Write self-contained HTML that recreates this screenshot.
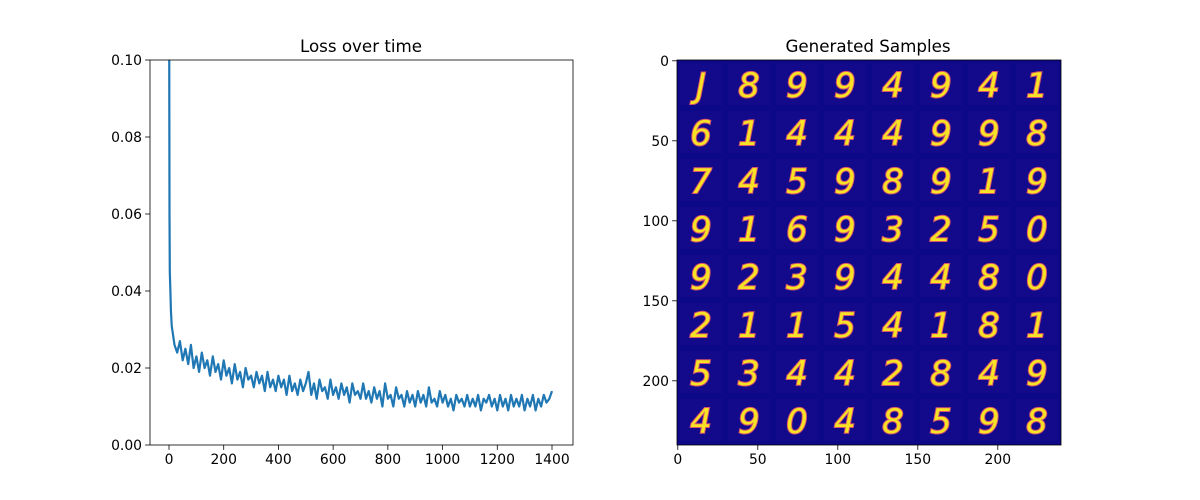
<!DOCTYPE html>
<html><head><meta charset="utf-8"><style>
body{margin:0;background:#fff}
svg{display:block}
text{font-family:"DejaVu Sans","Liberation Sans",sans-serif}
</style></head><body>
<svg id="fig" width="1200" height="500" viewBox="0 0 1200 500" xmlns="http://www.w3.org/2000/svg">
<defs><clipPath id="lc"><rect x="150" y="60" width="423" height="385"/></clipPath></defs>
<rect width="1200" height="500" fill="#fff"/>
<text x="361" y="52" font-size="16.7" text-anchor="middle">Loss over time</text>
<text x="868" y="52" font-size="16.7" text-anchor="middle">Generated Samples</text>
<g id="left"></g>
<g id="right"></g>
</svg>
<script>
const earlySteps=[0,1,2,3,5,7];
const earlyLoss=[0.15,0.09,0.06,0.045,0.04,0.035];
const lossValues=[0.031,0.026,0.024,0.027,0.022,0.025,0.021,0.026,0.020,0.023,
0.019,0.024,0.020,0.022,0.018,0.023,0.019,0.021,0.017,0.022,
0.018,0.020,0.016,0.021,0.017,0.019,0.015,0.020,0.017,0.018,
0.015,0.019,0.016,0.018,0.014,0.019,0.015,0.017,0.014,0.018,
0.015,0.017,0.013,0.018,0.014,0.016,0.013,0.017,0.014,0.016,
0.019,0.013,0.016,0.012,0.017,0.014,0.015,0.012,0.017,0.013,
0.015,0.012,0.016,0.013,0.015,0.011,0.016,0.013,0.014,0.012,
0.016,0.012,0.014,0.011,0.015,0.012,0.014,0.010,0.016,0.012,
0.013,0.010,0.015,0.012,0.013,0.010,0.014,0.011,0.013,0.010,
0.014,0.011,0.013,0.010,0.015,0.011,0.012,0.010,0.014,0.011,
0.013,0.010,0.012,0.009,0.013,0.011,0.012,0.010,0.013,0.010,
0.012,0.010,0.013,0.009,0.012,0.011,0.013,0.010,0.012,0.009,
0.013,0.010,0.012,0.009,0.013,0.010,0.012,0.010,0.013,0.009,
0.012,0.010,0.013,0.009,0.012,0.010,0.013,0.011,0.012,0.014];
const xTicks=[0,200,400,600,800,1000,1200,1400];
const yTicks=[0,0.02,0.04,0.06,0.08,0.10];
const yTickLabels=["0.00","0.02","0.04","0.06","0.08","0.10"];
const imgTicks=[0,50,100,150,200];
const digitRows=["J8994941","61444998","74598919","91693250","92394480","21154181","53442849","49048598"];

const NS="http://www.w3.org/2000/svg";
function mk(t,a,p){const e=document.createElementNS(NS,t);for(const k in a)e.setAttribute(k,a[k]);p.appendChild(e);return e;}
const L=document.getElementById('left'),R=document.getElementById('right');
const x0=150,x1=573,y0=60,y1=445;
const sx=v=>169+v*(552-169)/1400;
const sy=v=>y1-v/0.1*(y1-y0);
const steps=earlySteps.slice(),loss=earlyLoss.slice();
lossValues.forEach((v,i)=>{steps.push(10*(i+1));loss.push(v);});
const line=mk('polyline',{points:steps.map((s,i)=>sx(s).toFixed(1)+','+sy(loss[i]).toFixed(1)).join(' '),fill:'none',stroke:'#1f77b4','stroke-width':2.2,'stroke-linejoin':'round','clip-path':'url(#lc)'},L);


xTicks.forEach(t=>{const x=sx(t);mk('line',{x1:x,x2:x,y1:y1,y2:y1+4.9,stroke:'#000','stroke-width':0.8},L);
const tx=mk('text',{x:x,y:y1+19,'font-size':13.9,'text-anchor':'middle'},L);tx.textContent=t;

});
yTicks.forEach((t,i)=>{const y=sy(t);mk('line',{x1:x0,x2:x0-4.9,y1:y,y2:y,stroke:'#000','stroke-width':0.8},L);
const tx=mk('text',{x:x0-8,y:y+5,'font-size':13.9,'text-anchor':'end'},L);tx.textContent=yTickLabels[i];

});
mk('rect',{x:x0,y:y0,width:x1-x0,height:y1-y0,fill:'none',stroke:'#000','stroke-width':0.8},L);

// image
const ix0=677,iy0=60,sc=1.6;
mk('rect',{x:ix0,y:iy0,width:384,height:385,fill:'#0d0887'},R);
digitRows.forEach((row,r)=>{[...row].forEach((ch,c)=>{
mk('rect',{x:ix0+c*48+3,y:iy0+r*48+3,width:42,height:42,fill:'#130a8b'},R);
const t=mk('text',{x:ix0+c*48+24,y:iy0+r*48+37,'font-size':34,'text-anchor':'middle',fill:'#f7e225',stroke:'#d5546e','stroke-width':2,'font-weight':'normal','font-style':'italic','paint-order':'stroke'},R);
t.textContent=ch;

});});
imgTicks.forEach(t=>{const p=(t+0.5)*sc;
mk('line',{x1:ix0+p,x2:ix0+p,y1:445,y2:449.9,stroke:'#000','stroke-width':0.8},R);
const a=mk('text',{x:ix0+p,y:464,'font-size':13.9,'text-anchor':'middle'},R);a.textContent=t;


mk('line',{x1:ix0,x2:ix0-4.9,y1:iy0+p,y2:iy0+p,stroke:'#000','stroke-width':0.8},R);
const b=mk('text',{x:ix0-8,y:iy0+p+5,'font-size':13.9,'text-anchor':'end'},R);b.textContent=t;

});
mk('rect',{x:ix0,y:iy0,width:384,height:385,fill:'none',stroke:'#000','stroke-width':0.8},R);
</script>
</body></html>
